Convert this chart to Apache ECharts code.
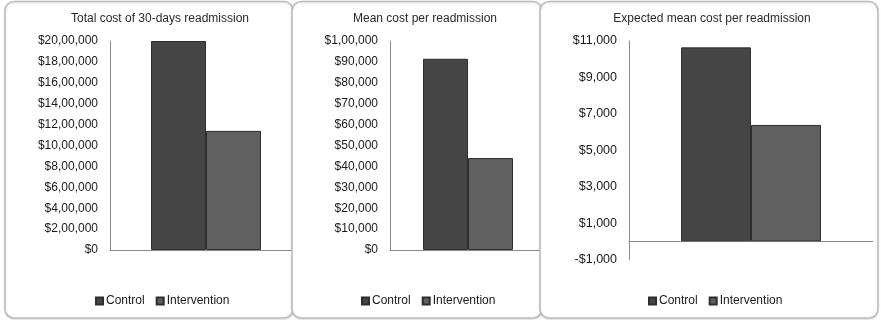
<!DOCTYPE html>
<html>
<head>
<meta charset="utf-8">
<title>Readmission costs</title>
<script src="https://cdn.jsdelivr.net/npm/echarts@6/dist/echarts.min.js"></script>
<style>
  html, body { margin: 0; padding: 0; background: #fff; }
  #chart { width: 881px; height: 320px; }
</style>
</head>
<body>
<div id="chart"></div>
<script>
// Series names shared by all three panels
const groups = ['Control', 'Intervention'];

// Panel titles
const panelTitles = [
  'Total cost of 30-days readmission',
  'Mean cost per readmission',
  'Expected mean cost per readmission'
];

// Values per panel: [Control, Intervention]
const totalCost = [2000000, 1140000];
const meanCost = [91500, 44000];
const expectedMeanCost = [10650, 6390];

// Axis ranges per panel: [min, max, step]
const totalAxis = [0, 2000000, 200000];
const meanAxis = [0, 100000, 10000];
const expectedAxis = [-1000, 11000, 1000];   // labelled every other step

const FONT = '"Liberation Sans", Arial, sans-serif';
const barColors = ['#454545', '#606060'];

// Dollar amounts grouped in the Indian style: $20,00,000
function money(v) {
  const neg = v < 0;
  let s = String(Math.abs(Math.round(v)));
  let head = s.slice(0, -3);
  let tail = s.slice(-3);
  if (head) {
    head = head.replace(/\B(?=(\d{2})+(?!\d))/g, ',');
    tail = head + ',' + tail;
  }
  return (neg ? '-' : '') + '$' + tail;
}

// Layout of the three bordered panels and their plot areas
const panels = [
  { box: [5, 1.5, 288, 316.5], grid: { left: 110, right: 579, top: 41, bottom: 70 }, bar: 55, title: 160, legend: 95, z: 0, tick: 12 },
  { box: [292, 1.5, 250, 316.5], grid: { left: 390, right: 335, top: 41, bottom: 70 }, bar: 45, title: 425, legend: 361, z: 3, tick: 12 },
  { box: [540, 1.5, 338, 316.5], grid: { left: 629, right: 8, top: 41, bottom: 60.5 }, bar: 70, title: 712, legend: 648, z: 6, tick: 12.5 }
];
const panelData = [totalCost, meanCost, expectedMeanCost];
const panelAxes = [totalAxis, meanAxis, expectedAxis];

const option = {
  animation: false,
  backgroundColor: '#fff',
  textStyle: { fontFamily: FONT },
  graphic: panels.map((p, i) => ({
    type: 'rect',
    z: p.z - 1,
    shape: { x: p.box[0], y: p.box[1], width: p.box[2], height: p.box[3], r: 9 },
    style: {
      fill: '#fff', stroke: '#bdbdbd', lineWidth: 1.5,
      shadowColor: 'rgba(0,0,0,0.12)', shadowBlur: 2, shadowOffsetY: 1
    }
  })),
  title: panels.map((p, i) => ({
    text: panelTitles[i],
    left: p.title,
    top: 13,
    padding: 0,
    textAlign: 'center',
    z: p.z + 2,
    textStyle: { fontFamily: FONT, fontSize: 12, fontWeight: 'normal', color: '#2a2a2a' }
  })),
  legend: panels.map((p, i) => ({
    data: groups,
    left: p.legend,
    top: 295,
    padding: 0,
    icon: 'rect',
    itemWidth: 7,
    itemHeight: 7,
    itemGap: 11,
    z: p.z + 2,
    selectedMode: false,
    textStyle: { fontFamily: FONT, fontSize: 12, color: '#1a1a1a', padding: [0, 0, 0, -2] }
  })),
  grid: panels.map(p => Object.assign({}, p.grid)),
  xAxis: panels.map((p, i) => ({
    type: 'category',
    gridIndex: i,
    data: [''],
    z: p.z,
    axisLine: { lineStyle: { color: '#8a8a8a', width: 1 } },
    axisTick: { show: false },
    axisLabel: { show: false }
  })),
  yAxis: panels.map((p, i) => {
    const a = panelAxes[i];
    return {
      type: 'value',
      gridIndex: i,
      min: a[0],
      max: a[1],
      interval: a[2],
      z: p.z,
      axisLine: { show: true, onZero: false, lineStyle: { color: '#8a8a8a', width: 1 } },
      axisTick: { show: false },
      splitLine: { show: false },
      axisLabel: {
        margin: 12,
        fontFamily: FONT,
        fontSize: p.tick,
        color: '#1a1a1a',
        formatter: i === 2
          ? (v => (Math.round(v / 1000) % 2 !== 0 ? money(v) : ''))
          : money
      }
    };
  }),
  series: []
};

panels.forEach((p, i) => {
  groups.forEach((g, k) => {
    option.series.push({
      name: g,
      type: 'bar',
      xAxisIndex: i,
      yAxisIndex: i,
      data: [panelData[i][k]],
      barWidth: p.bar,
      barGap: '0%',
      z: p.z + 1,
      itemStyle: { color: barColors[k], borderColor: '#2e2e2e', borderWidth: 1 }
    });
  });
});

const chart = echarts.init(document.getElementById('chart'), null, { renderer: 'canvas' });
chart.setOption(option);
</script>
</body>
</html>
